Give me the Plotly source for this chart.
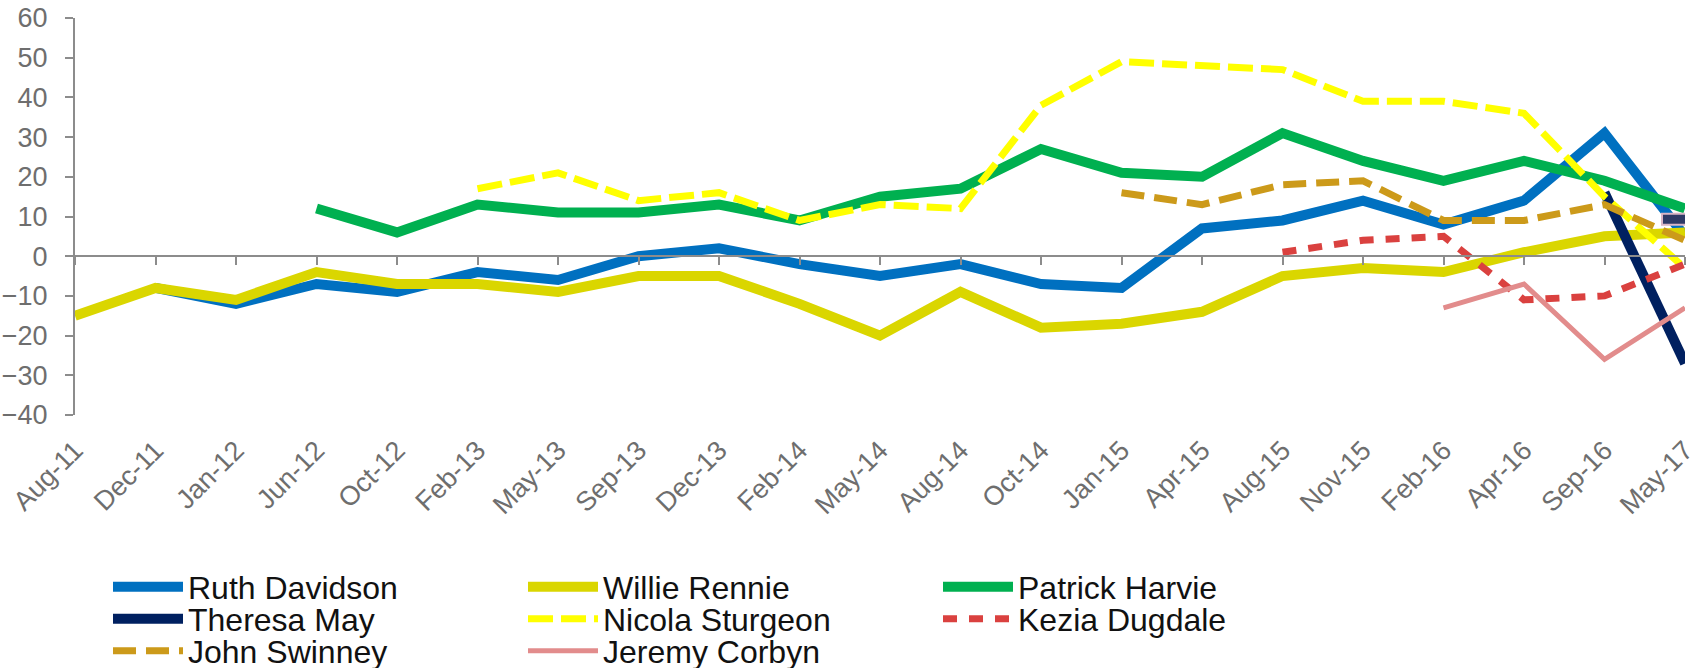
import plotly.graph_objects as go

categories = ["Aug-11", "Dec-11", "Jan-12", "Jun-12", "Oct-12", "Feb-13", "May-13", "Sep-13",
              "Dec-13", "Feb-14", "May-14", "Aug-14", "Oct-14", "Jan-15", "Apr-15", "Aug-15",
              "Nov-15", "Feb-16", "Apr-16", "Sep-16", "May-17"]

ruth_davidson = [None, -8, -12, -7, -9, -4, -6, 0, 2, -2, -5, -2, -7, -8, 7, 9, 14, 8, 14, 31, 5]
willie_rennie = [-15, -8, -11, -4, -7, -7, -9, -5, -5, -12, -20, -9, -18, -17, -14, -5, -3, -4, 1, 5, 6]
patrick_harvie = [None, None, None, 12, 6, 13, 11, 11, 13, 9, 15, 17, 27, 21, 20, 31, 24, 19, 24, 19, 12]
theresa_may = [None] * 19 + [16, -27]
nicola_sturgeon = [None] * 5 + [17, 21, 14, 16, 9, 13, 12, 38, 49, 48, 47, 39, 39, 36, 15, -3]
kezia_dugdale = [None] * 15 + [1, 4, 5, -11, -10, -2]
john_swinney = [None] * 13 + [16, 13, 18, 19, 9, 9, 13, 4]
jeremy_corbyn = [None] * 17 + [-13, -7, -26, -13]

series = [
    ("Ruth Davidson", ruth_davidson, "#0070C0", 10, "solid", "legend"),
    ("Willie Rennie", willie_rennie, "#DAD600", 10, "solid", "legend"),
    ("Patrick Harvie", patrick_harvie, "#00B050", 10, "solid", "legend"),
    ("Theresa May", theresa_may, "#002060", 10, "solid", "legend2"),
    ("Nicola Sturgeon", nicola_sturgeon, "#FFFF00", 7, "25px,8px", "legend2"),
    ("Kezia Dugdale", kezia_dugdale, "#DA413F", 7, "14px,12px", "legend2"),
    ("John Swinney", john_swinney, "#CC9A1A", 7, "23px,10px", "legend3"),
    ("Jeremy Corbyn", jeremy_corbyn, "#E28C8C", 5, "solid", "legend3"),
]

fig = go.Figure()

# invisible helper trace so the zero-crossing category axis (x2) is drawn
fig.add_trace(go.Scatter(x=categories, y=willie_rennie, xaxis="x2", yaxis="y",
                         mode="lines", line=dict(width=0), opacity=0,
                         showlegend=False, hoverinfo="skip"))

for name, vals, color, width, dash, leg in series:
    fig.add_trace(go.Scatter(
        x=categories, y=vals, name=name, mode="lines",
        line=dict(color=color, width=width, dash=dash),
        connectgaps=False, legend=leg,
    ))

# small selected-label box near the right end
fig.add_shape(type="rect", xref="x", yref="y", xsizemode="pixel", ysizemode="pixel",
              xanchor=20, yanchor=9.3, x0=-23, x1=8, y0=-5.5, y1=5.5,
              fillcolor="#2E3A66", line=dict(color="#D9B5C5", width=2), layer="above")

axis_grey = "#8C8C8C"
label_grey = "#6E6E6E"
FONT = "Liberation Sans, Arial, sans-serif"

legend_common = dict(orientation="h", xanchor="left", yanchor="middle",
                     font=dict(family=FONT, size=32, color="#111111"),
                     bgcolor="rgba(0,0,0,0)", itemwidth=70,
                     entrywidthmode="pixels", entrywidth=330,
                     tracegroupgap=0, itemclick=False)

x_leg = (108 - 75) / 1610

def ypaper(py):
    return (415 - py) / 397

fig.update_layout(
    width=1700, height=668,
    margin=dict(l=75, r=15, t=18, b=253, autoexpand=False),
    paper_bgcolor="white", plot_bgcolor="white",
    font=dict(family=FONT, color=label_grey),
    xaxis=dict(type="category", range=[0, 20], showline=False, showgrid=False,
               zeroline=False, ticks="", tickangle=-45,
               tickfont=dict(family=FONT, size=27, color=label_grey),
               ticklabelstandoff=13, automargin=False),
    xaxis2=dict(type="category", range=[0, 20], overlaying="x", anchor="free",
                position=0.4, side="bottom", showline=True, linecolor=axis_grey,
                linewidth=2, ticks="outside", ticklen=8, tickwidth=2,
                tickcolor=axis_grey, showticklabels=False, showgrid=False,
                zeroline=False, automargin=False),
    yaxis=dict(range=[-40, 60], dtick=10, showline=True, linecolor=axis_grey,
               linewidth=2, ticks="outside", ticklen=8, tickwidth=2,
               tickcolor=axis_grey, showgrid=False, zeroline=False,
               tickfont=dict(family=FONT, size=27, color=label_grey),
               ticklabelstandoff=12, automargin=False),
    legend=dict(x=x_leg, y=ypaper(587), **legend_common),
    legend2=dict(x=x_leg, y=ypaper(619), **legend_common),
    legend3=dict(x=x_leg, y=ypaper(651), **legend_common),
    showlegend=True,
)

fig.write_html("out.html",
               config={"displayModeBar": False},
               post_script="document.body.style.margin='0';document.body.style.overflow='hidden';")
